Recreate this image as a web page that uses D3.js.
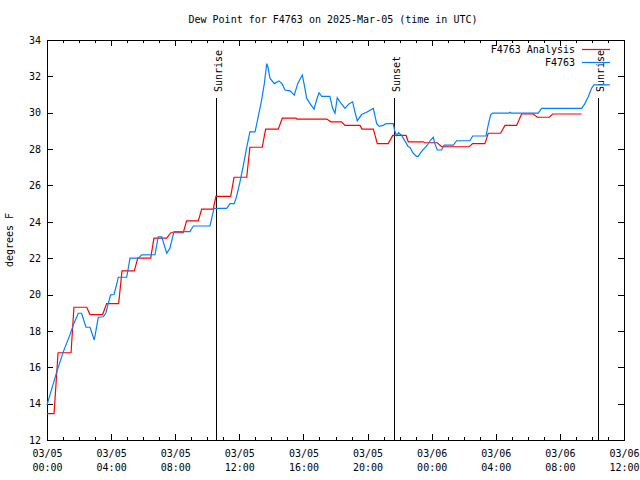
<!DOCTYPE html>
<html>
<head>
<meta charset="utf-8">
<script src="https://cdn.jsdelivr.net/npm/d3@7"></script>
<style>
  body { margin: 0; background: #fff; }
  svg { display: block; }
  text { font-family: "DejaVu Sans Mono", "Liberation Mono", monospace; font-size: 10px; fill: #000; }
</style>
</head>
<body>
<svg id="chart" width="640" height="480"></svg>
<script>
// ---- data (hours since 03/05 00:00 UTC) ----
const titleText = "Dew Point for F4763 on 2025-Mar-05 (time in UTC)";
const yLabel = "degrees F";
const seriesNames = ["F4763 Analysis", "F4763"];

const analysisHours = [0.00,0.44,0.69,1.50,1.68,2.48,2.68,3.47,3.72,4.47,4.68,5.45,5.66,6.47,6.67,7.47,7.72,8.50,8.71,9.44,9.65,10.37,10.54,11.46,11.67,12.46,12.66,13.43,13.64,14.43,14.68,15.53,15.60,17.45,17.72,18.38,18.59,19.53,19.65,20.36,20.61,21.29,21.57,22.40,22.54,23.47,23.58,24.35,24.62,26.34,26.56,27.32,27.53,28.30,28.57,29.30,29.61,30.34,30.59,31.34,31.55,33.36];
const analysisValues = [13.45,13.45,16.8,16.8,19.3,19.3,18.9,18.9,19.5,19.5,21.3,21.3,22.0,22.0,23.1,23.1,23.4,23.4,24.05,24.05,24.7,24.7,25.4,25.4,26.45,26.45,28.1,28.1,29.1,29.1,29.7,29.7,29.65,29.65,29.5,29.5,29.3,29.3,29.1,29.1,28.3,28.3,28.75,28.75,28.4,28.4,28.35,28.35,28.13,28.13,28.3,28.3,28.87,28.87,29.3,29.3,29.93,29.93,29.75,29.75,29.93,29.93];

const obsHours = [0.00,0.61,1.02,1.43,1.64,1.95,2.16,2.43,2.68,2.95,3.20,3.51,3.68,3.82,3.97,4.18,4.30,4.45,4.97,5.18,5.70,5.91,6.74,6.94,7.16,7.47,7.67,7.92,8.92,9.13,10.17,10.42,11.21,11.42,11.68,11.83,12.04,12.25,12.46,12.66,12.98,13.18,13.39,13.56,13.71,13.79,13.91,14.18,14.47,14.66,14.85,15.16,15.43,15.64,15.93,16.09,16.20,16.41,16.66,16.82,16.97,17.14,17.65,17.82,17.97,18.11,18.28,18.59,18.86,19.07,19.21,19.36,19.63,19.94,20.36,20.57,20.73,20.96,21.15,21.60,21.71,21.82,21.93,22.13,22.33,22.54,22.64,22.85,23.06,23.16,23.37,23.69,23.94,24.10,24.20,24.35,24.62,24.78,25.35,25.56,26.39,26.56,27.39,27.53,27.68,27.80,28.82,28.88,28.95,30.65,30.86,33.36,33.56,33.77,33.98,34.12,35.12];
const obsValues = [13.93,15.75,16.86,17.78,18.33,18.97,18.97,18.2,18.2,17.5,18.75,18.78,19.0,19.5,19.98,20.0,20.4,20.95,20.95,22.0,22.0,22.18,22.2,23.18,23.18,22.27,22.55,23.46,23.46,23.77,23.77,24.74,24.74,25.0,25.0,25.4,26.2,27.1,28.1,28.95,28.95,29.78,30.7,31.6,32.7,32.5,31.9,31.6,31.75,31.6,31.25,31.2,30.97,31.6,32.08,31.35,30.8,30.5,30.2,30.7,31.1,30.9,30.9,30.24,29.97,30.83,30.6,30.24,30.5,30.6,30.05,29.55,29.9,30.03,30.24,29.4,29.25,29.3,29.4,29.4,28.95,28.75,28.9,28.75,28.45,28.13,28.1,27.77,27.6,27.6,27.87,28.17,28.5,28.65,28.3,27.95,27.95,28.22,28.22,28.46,28.46,28.72,28.72,29.33,29.88,29.98,29.98,30.03,29.98,29.98,30.24,30.24,30.5,30.88,31.35,31.53,31.53];

const eventLabels = ["Sunrise", "Sunset", "Sunrise"];
const eventHours = [10.54, 21.65, 34.38];

const yTicks = [12,14,16,18,20,22,24,26,28,30,32,34];
const xTickHours = [0,4,8,12,16,20,24,28,32,36];
const xTickDates = ["03/05","03/05","03/05","03/05","03/05","03/05","03/06","03/06","03/06","03/06"];
const xTickTimes = ["00:00","04:00","08:00","12:00","16:00","20:00","00:00","04:00","08:00","12:00"];
const xMinorHours = d3.range(0, 37, 1);

const colors = ["#ff0000", "#0080ff"];

// ---- layout ----
const L = 47, R = 624, T = 40, B = 440;
const svg = d3.select("#chart");
const x = d3.scaleLinear().domain([0, 36]).range([L, R]);
const y = d3.scaleLinear().domain([12, 34]).range([B, T]);

// title
svg.append("text").attr("x", 333).attr("y", 23).attr("text-anchor", "middle").text(titleText);

// y label
svg.append("text").attr("transform", "translate(13,240) rotate(-90)")
  .attr("text-anchor", "middle").text(yLabel);

// axes
function styleAxis(g) {
  g.select(".domain").remove();
  g.selectAll("line").attr("stroke", "#000").attr("shape-rendering", "crispEdges");
  g.selectAll("text").attr("font-family", null).attr("font-size", null);
}
// minor x ticks
svg.append("g").attr("transform", `translate(0,${B})`)
  .call(d3.axisBottom(x).tickValues(xMinorHours).tickSize(-3).tickFormat(""))
  .call(styleAxis);
svg.append("g").attr("transform", `translate(0,${T})`)
  .call(d3.axisTop(x).tickValues(xMinorHours).tickSize(-3).tickFormat(""))
  .call(styleAxis);
// major x ticks
const xb = svg.append("g").attr("transform", `translate(0,${B})`)
  .call(d3.axisBottom(x).tickValues(xTickHours).tickSize(-6).tickPadding(0).tickFormat(""))
  .call(styleAxis);
xb.selectAll(".tick").each(function(d, i) {
  const t = d3.select(this).append("text").attr("text-anchor", "middle").attr("fill", "#000");
  t.append("tspan").attr("x", 0).attr("y", 17).text(xTickDates[i]);
  t.append("tspan").attr("x", 0).attr("y", 31).text(xTickTimes[i]);
});
svg.append("g").attr("transform", `translate(0,${T})`)
  .call(d3.axisTop(x).tickValues(xTickHours).tickSize(-6).tickFormat(""))
  .call(styleAxis);
// y ticks
svg.append("g").attr("transform", `translate(${L},0)`)
  .call(d3.axisLeft(y).tickValues(yTicks).tickSize(-6).tickPadding(6).tickFormat(d3.format("d")))
  .call(styleAxis);
svg.append("g").attr("transform", `translate(${R},0)`)
  .call(d3.axisRight(y).tickValues(yTicks).tickSize(-6).tickFormat(""))
  .call(styleAxis);

// border
svg.append("rect").attr("x", L).attr("y", T).attr("width", R - L).attr("height", B - T)
  .attr("fill", "none").attr("stroke", "#000").attr("shape-rendering", "crispEdges");

// event lines
eventHours.forEach((h, i) => {
  const xx = Math.round(x(h)) + 0.5;
  svg.append("line").attr("x1", xx).attr("x2", xx).attr("y1", 98).attr("y2", B)
    .attr("stroke", "#000").attr("stroke-width", 1);
  svg.append("text").attr("transform", `translate(${xx + 1.5},92) rotate(-90)`)
    .attr("dy", "0.35em").attr("text-anchor", "start").text(eventLabels[i]);
});

// series
const line = d3.line().x(d => x(d[0])).y(d => y(d[1]));
const seriesData = [
  d3.zip(analysisHours, analysisValues),
  d3.zip(obsHours, obsValues)
];
seriesData.forEach((data, i) => {
  svg.append("path").datum(data).attr("d", line)
    .attr("fill", "none").attr("stroke", colors[i]).attr("stroke-width", 1.2);
});

// legend
seriesNames.forEach((name, i) => {
  const ly = 49 + i * 13;
  svg.append("text").attr("x", 575).attr("y", ly).attr("dy", "0.35em")
    .attr("text-anchor", "end").text(name);
  svg.append("line").attr("x1", 582).attr("x2", 610).attr("y1", ly + 0.5).attr("y2", ly + 0.5)
    .attr("stroke", colors[i]).attr("stroke-width", 1.2);
});
</script>
</body>
</html>
